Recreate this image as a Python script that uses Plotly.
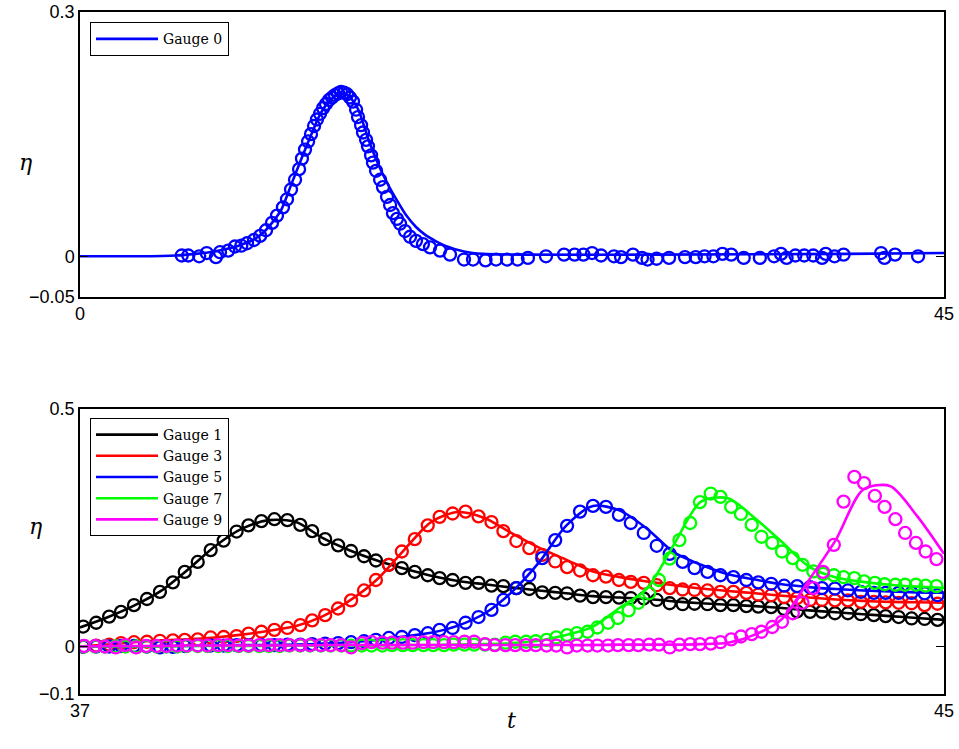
import plotly.graph_objects as go
from plotly.subplots import make_subplots

# ---------------- data: top panel (Gauge 0) ----------------
top_t_line = [0, 3, 5, 6, 7, 8, 8.5, 9, 9.5, 10, 10.5, 11, 11.5, 12, 12.5, 13, 13.5, 14,
              14.5, 15, 15.5, 16, 16.5, 17, 17.5, 18, 18.5, 19, 20, 21, 23, 30, 40, 45]
top_eta_line = [0.000, 0.000, 0.001, 0.003, 0.006, 0.011, 0.015, 0.020, 0.028, 0.041, 0.058,
                0.088, 0.118, 0.147, 0.174, 0.191, 0.200, 0.197, 0.180, 0.145, 0.115, 0.090,
                0.069, 0.050, 0.036, 0.026, 0.019, 0.013, 0.006, 0.003, 0.002, 0.002, 0.003, 0.004]

top_t_obs = [5.30, 5.64, 6.21, 6.60, 7.08, 7.29, 7.72, 8.07, 8.40, 8.70,
             9.06, 9.38, 9.69, 10.00, 10.26, 10.57, 10.78, 10.99, 11.20, 11.41,
             11.56, 11.72, 11.88, 12.03, 12.19, 12.34, 12.50, 12.66, 12.81, 12.97,
             13.13, 13.28, 13.44, 13.59, 13.75, 13.91, 14.06, 14.22, 14.38, 14.48,
             14.64, 14.74, 14.90, 15.00, 15.16, 15.26, 15.42, 15.63, 15.78, 15.99,
             16.15, 16.30, 16.51, 16.67, 16.93, 17.19, 17.50, 17.86, 18.23, 18.75,
             19.27, 20.00, 20.47, 21.12, 21.67, 22.24, 22.79, 23.33, 24.27, 25.21,
             25.76, 26.22, 26.67, 27.14, 27.81, 28.18, 28.80, 29.27, 29.56, 30.03,
             30.68, 31.51, 32.07, 32.53, 32.99, 33.46, 33.92, 34.57, 35.41, 36.15,
             36.51, 36.80, 37.26, 37.72, 38.19, 38.65, 38.84, 39.30, 39.77, 41.72,
             41.90, 42.45, 43.65]
top_eta_obs = [0.001, 0.001, 0.000, 0.004, -0.001, 0.005, 0.007, 0.012, 0.013, 0.016,
               0.020, 0.025, 0.032, 0.041, 0.050, 0.060, 0.070, 0.082, 0.094, 0.107,
               0.120, 0.131, 0.141, 0.150, 0.160, 0.168, 0.175, 0.182, 0.187, 0.192,
               0.195, 0.198, 0.200, 0.202, 0.201, 0.199, 0.195, 0.190, 0.180, 0.171,
               0.161, 0.152, 0.143, 0.135, 0.124, 0.115, 0.105, 0.094, 0.085, 0.073,
               0.063, 0.053, 0.046, 0.040, 0.031, 0.024, 0.019, 0.015, 0.011, 0.007,
               0.002, -0.004, -0.004, -0.005, -0.004, -0.004, -0.004, -0.002, 0.000, 0.002,
               0.002, 0.002, 0.004, 0.001, 0.000, -0.001, 0.002, -0.002, -0.004, -0.003,
               -0.002, -0.001, -0.001, 0.000, 0.000, 0.003, 0.002, -0.002, -0.002, 0.000,
               0.003, -0.002, 0.001, 0.001, 0.001, -0.002, 0.003, 0.000, 0.002, 0.004,
               -0.002, 0.002, 0.000]

# ---------------- data: bottom panel (Gauges 1-9) ----------------
t_line = [37.00, 37.25, 37.50, 37.75, 38.00, 38.25, 38.50, 38.75, 39.00, 39.25, 39.50,
          39.75, 40.00, 40.25, 40.50, 40.75, 41.00, 41.25, 41.50, 41.75, 42.00, 42.25,
          42.50, 42.75, 43.00, 43.25, 43.50, 43.75, 44.00, 44.25, 44.50, 44.75, 45.00]

g1_line = [0.040, 0.061, 0.086, 0.117, 0.162, 0.211, 0.248, 0.266, 0.262, 0.228, 0.202,
           0.181, 0.164, 0.149, 0.138, 0.131, 0.124, 0.118, 0.112, 0.106, 0.103, 0.100,
           0.095, 0.091, 0.088, 0.085, 0.081, 0.076, 0.072, 0.068, 0.064, 0.060, 0.056]
g3_line = [0.000, 0.004, 0.009, 0.013, 0.015, 0.019, 0.025, 0.033, 0.043, 0.064, 0.097,
           0.141, 0.203, 0.262, 0.283, 0.270, 0.238, 0.208, 0.183, 0.158, 0.146, 0.137,
           0.129, 0.122, 0.117, 0.112, 0.107, 0.103, 0.099, 0.096, 0.094, 0.093, 0.092]
g5_line = [0.000, 0.000, 0.000, 0.001, 0.001, 0.002, 0.003, 0.003, 0.004, 0.006, 0.009,
           0.014, 0.021, 0.029, 0.044, 0.070, 0.115, 0.177, 0.254, 0.296, 0.286, 0.248,
           0.198, 0.172, 0.152, 0.141, 0.131, 0.125, 0.121, 0.118, 0.116, 0.114, 0.113]
g7_line = [0.000, 0.000, 0.000, 0.000, 0.001, 0.001, 0.001, 0.001, 0.002, 0.002, 0.002,
           0.002, 0.003, 0.003, 0.004, 0.005, 0.007, 0.012, 0.024, 0.042, 0.082, 0.122,
           0.215, 0.305, 0.312, 0.270, 0.220, 0.168, 0.145, 0.136, 0.130, 0.126, 0.123]
g9_line = [0.000, 0.001, 0.001, 0.001, 0.002, 0.002, 0.002, 0.002, 0.002, 0.003, 0.003,
           0.003, 0.003, 0.003, 0.003, 0.003, 0.003, 0.003, 0.003, 0.003, 0.004, 0.004,
           0.004, 0.005, 0.008, 0.025, 0.058, 0.140, 0.225, 0.330, 0.338, 0.275, 0.195]

# observation times, gauges 1, 3, 5
t_obs_a = [37.03, 37.15, 37.27, 37.38, 37.50, 37.62, 37.74, 37.86, 37.97, 38.09,
           38.21, 38.33, 38.45, 38.56, 38.68, 38.80, 38.92, 39.04, 39.15, 39.27,
           39.39, 39.51, 39.63, 39.74, 39.86, 39.98, 40.10, 40.22, 40.33, 40.45,
           40.57, 40.69, 40.81, 40.92, 41.04, 41.16, 41.28, 41.40, 41.51, 41.63,
           41.75, 41.87, 41.99, 42.10, 42.22, 42.34, 42.46, 42.58, 42.69, 42.81,
           42.93, 43.05, 43.17, 43.28, 43.40, 43.52, 43.64, 43.76, 43.87, 43.99,
           44.11, 44.23, 44.35, 44.46, 44.58, 44.70, 44.82, 44.94]
# observation times, gauges 7, 9
t_obs_b = [37.04, 37.14, 37.23, 37.33, 37.42, 37.52, 37.61, 37.71, 37.80, 37.90,
           37.99, 38.09, 38.18, 38.28, 38.37, 38.47, 38.56, 38.66, 38.75, 38.85,
           38.94, 39.04, 39.13, 39.23, 39.32, 39.42, 39.51, 39.61, 39.70, 39.80,
           39.89, 39.99, 40.08, 40.18, 40.27, 40.37, 40.46, 40.56, 40.65, 40.75,
           40.84, 40.94, 41.03, 41.13, 41.22, 41.32, 41.41, 41.51, 41.60, 41.70,
           41.79, 41.89, 41.98, 42.08, 42.17, 42.27, 42.36, 42.46, 42.55, 42.65,
           42.74, 42.84, 42.93, 43.03, 43.12, 43.22, 43.31, 43.41, 43.50, 43.60,
           43.69, 43.79, 43.88, 43.98, 44.07, 44.17, 44.26, 44.36, 44.45, 44.55,
           44.64, 44.74, 44.83, 44.93]

g1_obs = [0.042, 0.050, 0.063, 0.073, 0.087, 0.100, 0.115, 0.135, 0.157, 0.178,
          0.203, 0.223, 0.242, 0.255, 0.264, 0.268, 0.266, 0.256, 0.243, 0.226,
          0.213, 0.201, 0.190, 0.181, 0.172, 0.165, 0.157, 0.150, 0.144, 0.140,
          0.134, 0.134, 0.128, 0.127, 0.123, 0.121, 0.114, 0.113, 0.112, 0.107,
          0.104, 0.104, 0.103, 0.102, 0.101, 0.098, 0.091, 0.089, 0.090, 0.089,
          0.087, 0.087, 0.085, 0.084, 0.083, 0.079, 0.074, 0.073, 0.073, 0.070,
          0.070, 0.068, 0.066, 0.064, 0.062, 0.059, 0.058, 0.056]
g3_obs = [0.000, 0.002, 0.004, 0.007, 0.009, 0.010, 0.012, 0.013, 0.014, 0.015,
          0.019, 0.020, 0.022, 0.027, 0.031, 0.035, 0.039, 0.045, 0.055, 0.066,
          0.080, 0.097, 0.118, 0.140, 0.172, 0.200, 0.226, 0.255, 0.273, 0.280,
          0.284, 0.274, 0.262, 0.243, 0.222, 0.207, 0.193, 0.179, 0.167, 0.160,
          0.150, 0.147, 0.140, 0.136, 0.134, 0.129, 0.123, 0.120, 0.119, 0.118,
          0.115, 0.115, 0.113, 0.109, 0.108, 0.104, 0.102, 0.098, 0.098, 0.097,
          0.097, 0.094, 0.094, 0.093, 0.092, 0.091, 0.087, 0.090]
g5_obs = [0.000, 0.000, 0.000, 0.001, 0.001, 0.000, -0.002, -0.001, 0.001, 0.002,
          0.002, 0.002, 0.003, 0.003, 0.003, 0.003, 0.004, 0.004, 0.005, 0.006,
          0.007, 0.009, 0.011, 0.014, 0.018, 0.020, 0.024, 0.028, 0.035, 0.039,
          0.050, 0.062, 0.077, 0.098, 0.123, 0.150, 0.186, 0.224, 0.254, 0.284,
          0.296, 0.294, 0.277, 0.260, 0.239, 0.212, 0.195, 0.178, 0.165, 0.157,
          0.150, 0.146, 0.140, 0.135, 0.132, 0.128, 0.127, 0.125, 0.123, 0.122,
          0.118, 0.115, 0.113, 0.113, 0.113, 0.113, 0.112, 0.108]
g7_obs = [0.000, 0.000, 0.000, 0.000, 0.000, 0.000, 0.000, 0.000, 0.000, 0.000,
          0.001, 0.001, 0.001, 0.001, 0.001, 0.001, 0.001, 0.001, 0.001, 0.001,
          0.002, 0.002, 0.002, 0.002, 0.002, 0.002, 0.002, 0.002, 0.002, 0.002,
          0.003, 0.003, 0.003, 0.003, 0.003, 0.003, 0.004, 0.004, 0.004, 0.004,
          0.004, 0.008, 0.010, 0.010, 0.011, 0.014, 0.019, 0.024, 0.028, 0.031,
          0.040, 0.050, 0.060, 0.076, 0.092, 0.112, 0.140, 0.185, 0.224, 0.260,
          0.304, 0.322, 0.315, 0.294, 0.279, 0.256, 0.231, 0.218, 0.200, 0.186,
          0.172, 0.158, 0.153, 0.150, 0.146, 0.144, 0.137, 0.134, 0.131, 0.130,
          0.130, 0.130, 0.128, 0.127]
g9_obs = [0.001, 0.001, 0.000, -0.002, 0.003, -0.002, 0.001, 0.001, 0.001, 0.002,
          0.002, 0.002, 0.002, 0.003, 0.003, 0.002, 0.002, 0.003, 0.003, 0.003,
          0.003, 0.003, 0.003, 0.003, 0.003, 0.003, -0.002, 0.007, 0.009, 0.008,
          0.008, 0.008, 0.008, 0.009, 0.009, 0.009, 0.009, 0.010, 0.010, 0.005,
          0.003, 0.003, 0.003, 0.003, 0.003, 0.002, 0.002, -0.002, 0.002, 0.002,
          0.002, 0.002, 0.003, 0.003, 0.003, 0.004, 0.004, -0.002, 0.004, 0.005,
          0.005, 0.006, 0.009, 0.015, 0.021, 0.026, 0.031, 0.041, 0.052, 0.070,
          0.092, 0.123, 0.157, 0.214, 0.305, 0.357, 0.344, 0.317, 0.294, 0.268,
          0.239, 0.218, 0.200, 0.184]

gauges = [
    ("Gauge 1", "#000000", g1_line, t_obs_a, g1_obs),
    ("Gauge 3", "#ff0000", g3_line, t_obs_a, g3_obs),
    ("Gauge 5", "#0000ff", g5_line, t_obs_a, g5_obs),
    ("Gauge 7", "#00ff00", g7_line, t_obs_b, g7_obs),
    ("Gauge 9", "#ff00ff", g9_line, t_obs_b, g9_obs),
]

# ---------------- figure ----------------
fig = make_subplots(rows=2, cols=1, vertical_spacing=0.1642)

LW = 2.6
MSIZE = 12
MLW = 2.3

fig.add_trace(go.Scatter(x=top_t_line, y=top_eta_line, mode="lines", name="Gauge 0",
                         line=dict(color="#0000ff", width=LW, shape="spline", smoothing=0.6),
                         legend="legend"), row=1, col=1)
fig.add_trace(go.Scatter(x=top_t_obs, y=top_eta_obs, mode="markers", showlegend=False,
                         marker=dict(symbol="circle-open", size=MSIZE, color="#0000ff",
                                     line=dict(width=MLW, color="#0000ff"))), row=1, col=1)

for name, col, yl, tobs, yobs in gauges:
    fig.add_trace(go.Scatter(x=t_line, y=yl, mode="lines", name=name,
                             line=dict(color=col, width=LW, shape="spline", smoothing=0.8),
                             legend="legend2"), row=2, col=1)
    fig.add_trace(go.Scatter(x=tobs, y=yobs, mode="markers", showlegend=False,
                             marker=dict(symbol="circle-open", size=MSIZE, color=col,
                                         line=dict(width=MLW, color=col))), row=2, col=1)

tick_font = dict(family="Liberation Sans, Arial, sans-serif", size=18, color="black")
axis_common = dict(showline=True, linecolor="black", linewidth=1.5, mirror="ticks",
                   ticks="inside", ticklen=8, tickwidth=1, tickcolor="black",
                   showgrid=False, zeroline=False, tickfont=tick_font, automargin=False)

fig.update_xaxes(range=[0, 45], tickvals=[0, 45], ticktext=["0", "45"], row=1, col=1, **axis_common)
fig.update_yaxes(range=[-0.05, 0.3], tickvals=[-0.05, 0, 0.3], ticktext=["\u22120.05", "0", "0.3"],
                 row=1, col=1, **axis_common)
fig.update_xaxes(range=[37, 45], tickvals=[37, 45], ticktext=["37", "45"], row=2, col=1, **axis_common)
fig.update_yaxes(range=[-0.1, 0.5], tickvals=[-0.1, 0, 0.5], ticktext=["\u22120.1", "0", "0.5"],
                 row=2, col=1, **axis_common)

fig.update_layout(yaxis=dict(domain=[0.5821, 1.0]), yaxis2=dict(domain=[0.0, 0.4179]))

legend_font = dict(family="DejaVu Serif, serif", size=14, color="black")
legend_common = dict(xanchor="left", yanchor="top", bgcolor="white", bordercolor="black",
                     borderwidth=1, font=legend_font, itemwidth=62, tracegroupgap=0)

serif_i = dict(family="DejaVu Serif, serif", size=22, color="black")

fig.update_layout(
    width=959, height=749,
    margin=dict(l=80, r=15, t=12, b=55),
    paper_bgcolor="white", plot_bgcolor="white",
    legend=dict(x=0.0116, y=0.985, **legend_common),
    legend2=dict(x=0.0116, y=0.4047, **legend_common),
    annotations=[
        dict(text="<i>\u03b7</i>", xref="paper", yref="paper", x=-0.073, y=0.80,
             showarrow=False, font=serif_i),
        dict(text="<i>\u03b7</i>", xref="paper", yref="paper", x=-0.061, y=0.225,
             showarrow=False, font=serif_i),
        dict(text="<i>t</i>", xref="paper", yref="paper", x=0.499, y=-0.06,
             showarrow=False, font=serif_i),
    ],
)

fig.write_html("out.html", config={"displayModeBar": False},
               post_script="document.body.style.margin='0';document.body.style.padding='0';")
